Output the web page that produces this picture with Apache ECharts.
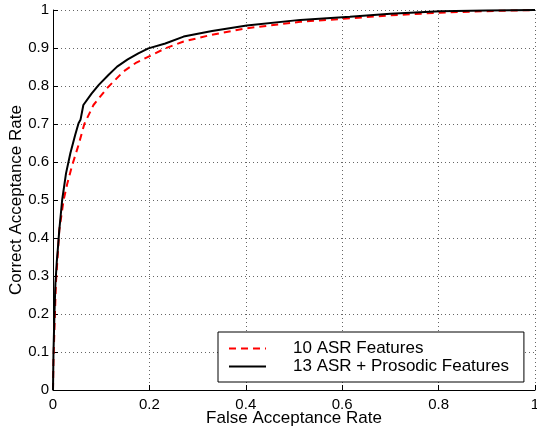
<!DOCTYPE html>
<html>
<head>
<meta charset="utf-8">
<script src="https://cdn.jsdelivr.net/npm/echarts@6/dist/echarts.min.js"></script>
<style>html,body{margin:0;padding:0;background:#fff}#c{width:537px;height:429px}</style>
</head>
<body>
<div id="c"></div>
<script>
var seriesNames = ['10 ASR Features', '13 ASR + Prosodic Features'];
var asrX = [0, 0.001, 0.004, 0.006, 0.009, 0.013, 0.022, 0.030, 0.039, 0.053, 0.065, 0.084, 0.112, 0.146, 0.171, 0.212, 0.233, 0.271, 0.33, 0.402, 0.513, 0.616, 0.70, 0.803, 0.90, 1];
var asrY = [0, 0.08, 0.2, 0.28, 0.34, 0.42, 0.50, 0.545, 0.588, 0.645, 0.70, 0.75, 0.794, 0.838, 0.86, 0.886, 0.899, 0.917, 0.935, 0.952, 0.969, 0.978, 0.986, 0.993, 0.997, 1];
var prosX = [0, 0.001, 0.003, 0.005, 0.008, 0.010, 0.013, 0.019, 0.027, 0.036, 0.046, 0.053, 0.057, 0.063, 0.080, 0.095, 0.115, 0.133, 0.155, 0.177, 0.198, 0.233, 0.271, 0.33, 0.402, 0.513, 0.616, 0.70, 0.803, 0.90, 1];
var prosY = [0, 0.10, 0.20, 0.28, 0.34, 0.37, 0.42, 0.50, 0.57, 0.623, 0.671, 0.702, 0.711, 0.75, 0.78, 0.803, 0.829, 0.851, 0.870, 0.886, 0.899, 0.912, 0.93, 0.945, 0.959, 0.974, 0.982, 0.99, 0.997, 0.999, 1];
var xTicks = [0, 0.2, 0.4, 0.6, 0.8, 1];
var yTicks = [0, 0.1, 0.2, 0.3, 0.4, 0.5, 0.6, 0.7, 0.8, 0.9, 1];

function pairs(xs, ys) { return xs.map(function (x, i) { return [x, ys[i]]; }); }
function fmt(v) { return String(Math.round(v * 10) / 10); }

var font = '"Liberation Sans", Arial, Helvetica, sans-serif';
var chart = echarts.init(document.getElementById('c'), null, { renderer: 'canvas' });
chart.setOption({
  animation: false,
  backgroundColor: '#fff',
  textStyle: { fontFamily: font },
  grid: { left: 53, right: 2, top: 10, bottom: 39, containLabel: false, outerBoundsMode: 'none' },
  xAxis: {
    type: 'value', min: 0, max: 1, interval: 0.2,
    name: 'False Acceptance Rate', nameLocation: 'middle', nameGap: 20, nameMoveOverlap: false,
    nameTextStyle: { fontSize: 17, color: '#000', fontFamily: font },
    axisLine: { show: true, lineStyle: { color: '#000', width: 1 } },
    axisTick: { show: true, inside: true, length: 5, lineStyle: { color: '#000' } },
    axisLabel: { fontSize: 15, color: '#000', margin: 7, fontFamily: font,
      formatter: function (v) { return xTicks.indexOf(Math.round(v * 10) / 10) >= 0 ? fmt(v) : ''; } },
    splitLine: { show: true, lineStyle: { color: '#666', type: [1, 3], width: 1 } }
  },
  yAxis: {
    type: 'value', min: 0, max: 1, interval: 0.1,
    name: 'Correct Acceptance Rate', nameLocation: 'middle', nameGap: 28, nameMoveOverlap: false,
    nameTextStyle: { fontSize: 17, color: '#000', fontFamily: font },
    axisLine: { show: true, lineStyle: { color: '#000', width: 1 } },
    axisTick: { show: true, inside: true, length: 5, lineStyle: { color: '#000' } },
    axisLabel: { fontSize: 15, color: '#000', margin: 4, fontFamily: font,
      formatter: function (v) { return yTicks.indexOf(Math.round(v * 10) / 10) >= 0 ? fmt(v) : ''; } },
    splitLine: { show: true, lineStyle: { color: '#666', type: [1, 3], width: 1 } }
  },
  legend: {
    orient: 'vertical', left: 218, top: 332,
    backgroundColor: '#fff',
    borderColor: '#000', borderWidth: 1, borderRadius: 0,
    padding: [8, 15, 7, 10],
    itemWidth: 37, itemHeight: 16, itemGap: 1,
    itemStyle: { opacity: 0 },
    textStyle: { fontSize: 17, color: '#000', fontFamily: font, lineHeight: 16, padding: [0, 0, 0, 22] },
    data: seriesNames
  },
  series: [
    {
      name: seriesNames[0], type: 'line', showSymbol: false, symbol: 'none',
      data: pairs(asrX, asrY), smooth: false,
      lineStyle: { color: '#ff0000', width: 2, type: [7, 5] },
      itemStyle: { color: '#ff0000' }, z: 2
    },
    {
      name: seriesNames[1], type: 'line', showSymbol: false, symbol: 'none',
      data: pairs(prosX, prosY), smooth: false,
      lineStyle: { color: '#000', width: 2, type: 'solid' },
      itemStyle: { color: '#000' }, z: 3
    }
  ]
});
</script>
</body>
</html>
